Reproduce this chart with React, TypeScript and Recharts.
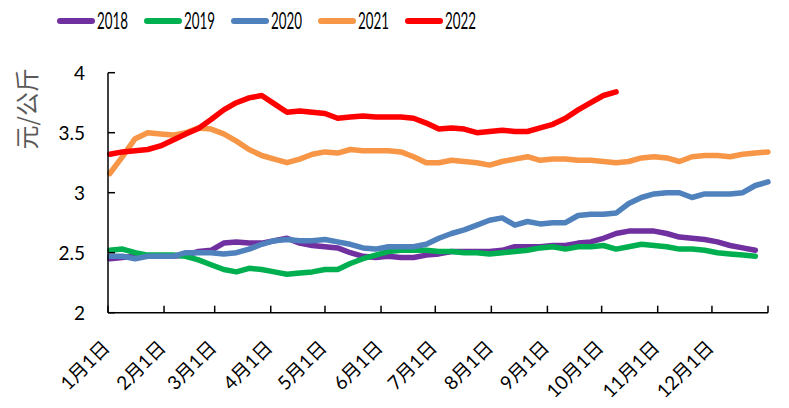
import React from 'react';
import { LineChart, Line, XAxis, YAxis } from 'recharts';

// day of year of each weekly observation
const weekDays = [
  1, 8, 15, 22, 29, 36, 43, 50, 57, 64, 71, 78, 85, 92, 99, 106, 113, 120, 127, 134,
  141, 148, 155, 162, 169, 176, 183, 190, 197, 204, 211, 218, 225, 232, 239, 246, 253, 260, 267, 274,
  281, 288, 295, 302, 309, 316, 323, 330, 337, 344, 351, 358, 365,
];

const v2018 = [
  2.45, 2.46, 2.47, 2.47, 2.47, 2.47, 2.48, 2.51, 2.52, 2.58,
  2.59, 2.58, 2.58, 2.60, 2.62, 2.58, 2.56, 2.55, 2.54, 2.50,
  2.47, 2.46, 2.47, 2.46, 2.46, 2.48, 2.49, 2.51, 2.51, 2.51,
  2.51, 2.52, 2.55, 2.55, 2.55, 2.56, 2.56, 2.58, 2.59, 2.62,
  2.66, 2.68, 2.68, 2.68, 2.66, 2.63, 2.62, 2.61, 2.59, 2.56,
  2.54, 2.52, null,
];

const v2019 = [
  2.52, 2.53, 2.50, 2.48, 2.48, 2.48, 2.47, 2.44, 2.40, 2.36,
  2.34, 2.37, 2.36, 2.34, 2.32, 2.33, 2.34, 2.36, 2.36, 2.41,
  2.45, 2.48, 2.51, 2.52, 2.52, 2.52, 2.51, 2.51, 2.50, 2.50,
  2.49, 2.50, 2.51, 2.52, 2.54, 2.55, 2.53, 2.55, 2.55, 2.56,
  2.53, 2.55, 2.57, 2.56, 2.55, 2.53, 2.53, 2.52, 2.50, 2.49,
  2.48, 2.47, null,
];

const v2020 = [
  2.47, 2.47, 2.45, 2.47, 2.47, 2.47, 2.50, 2.50, 2.50, 2.49,
  2.50, 2.53, 2.57, 2.60, 2.61, 2.60, 2.60, 2.61, 2.59, 2.57,
  2.54, 2.53, 2.55, 2.55, 2.55, 2.57, 2.62, 2.66, 2.69, 2.73,
  2.77, 2.79, 2.73, 2.76, 2.74, 2.75, 2.75, 2.81, 2.82, 2.82,
  2.83, 2.91, 2.96, 2.99, 3.00, 3.00, 2.96, 2.99, 2.99, 2.99,
  3.00, 3.06, 3.09,
];

const v2021 = [
  3.16, 3.30, 3.45, 3.50, 3.49, 3.48, 3.50, 3.54, 3.53, 3.49,
  3.43, 3.36, 3.31, 3.28, 3.25, 3.28, 3.32, 3.34, 3.33, 3.36,
  3.35, 3.35, 3.35, 3.34, 3.30, 3.25, 3.25, 3.27, 3.26, 3.25,
  3.23, 3.26, 3.28, 3.30, 3.27, 3.28, 3.28, 3.27, 3.27, 3.26,
  3.25, 3.26, 3.29, 3.30, 3.29, 3.26, 3.30, 3.31, 3.31, 3.30,
  3.32, 3.33, 3.34,
];

const v2022 = [
  3.32, 3.34, 3.35, 3.36, 3.39, 3.44, 3.49, 3.535, 3.61, 3.69,
  3.75, 3.79, 3.81, 3.74, 3.67, 3.68, 3.67, 3.66, 3.62, 3.63,
  3.64, 3.63, 3.63, 3.63, 3.62, 3.58, 3.53, 3.54, 3.53, 3.50,
  3.51, 3.52, 3.51, 3.51, 3.54, 3.57, 3.62, 3.69, 3.75, 3.81,
  3.84, null, null, null, null, null, null, null, null, null,
  null, null, null,
];

const MONTH_TICKS = [0, 31, 59, 90, 120, 151, 181, 212, 243, 273, 304, 334, 365];
const MONTH_LABELS = [
  '1月1日', '2月1日', '3月1日', '4月1日', '5月1日', '6月1日',
  '7月1日', '8月1日', '9月1日', '10月1日', '11月1日', '12月1日',
];
const Y_TICKS = [2, 2.5, 3, 3.5, 4];

const SERIES = [
  { key: 'y2018', name: '2018', color: '#7030A0' },
  { key: 'y2019', name: '2019', color: '#00B050' },
  { key: 'y2020', name: '2020', color: '#4F81BD' },
  { key: 'y2021', name: '2021', color: '#F79646' },
  { key: 'y2022', name: '2022', color: '#FF0000' },
];

const rows = weekDays.map((day, i) => ({
  day,
  y2018: v2018[i],
  y2019: v2019[i],
  y2020: v2020[i],
  y2021: v2021[i],
  y2022: v2022[i],
}));

const FONT = 'Lato, "Noto Sans CJK SC", sans-serif';

const XTick = (props: any) => {
  const { x, y, payload } = props;
  const idx = MONTH_TICKS.indexOf(payload.value);
  const label = MONTH_LABELS[idx];
  return (
    <g>
      <line x1={x} y1={y} x2={x} y2={y - 7} stroke="#000" strokeWidth={1.5} />
      {label && (
        <text
          transform={`translate(${x + 3},${y + 36}) rotate(-45)`}
          textAnchor="end"
          fontSize={19}
          fontFamily={FONT}
          fill="#000"
        >
          {label}
        </text>
      )}
    </g>
  );
};

const YTick = (props: any) => {
  const { x, y, payload } = props;
  return (
    <g>
      <line x1={x + 23} y1={y} x2={x + 30} y2={y} stroke="#000" strokeWidth={1.5} />
      <text x={x} y={y} dy="0.36em" textAnchor="end" fontSize={19} fontFamily={FONT} fill="#000">
        {payload.value}
      </text>
    </g>
  );
};

const YTitle = (props: any) => {
  const vb = props.viewBox || { x: 0, y: 72.7 };
  const cx = vb.x + 26;
  const cy = vb.y + 36;
  return (
    <text
      x={cx}
      y={cy}
      transform={`rotate(-90, ${cx}, ${cy})`}
      textAnchor="middle"
      dominantBaseline="central"
      fontSize={24}
      fontFamily='"Noto Sans CJK SC", sans-serif'
      fill="#595959"
    >
      元/公斤
    </text>
  );
};

export default function App() {
  return (
    <div style={{ position: 'absolute', left: 0, top: 0, width: 789, height: 408, background: '#fff' }}>
      <LineChart
        width={789}
        height={408}
        data={rows}
        margin={{ top: 72.7, right: 21, bottom: 15.3, left: 0 }}
      >
        <XAxis
          dataKey="day"
          type="number"
          domain={[0, 365]}
          ticks={MONTH_TICKS}
          interval={0}
          height={80}
          tickSize={0}
          tickMargin={0}
          tickLine={false}
          axisLine={{ stroke: '#000', strokeWidth: 1.5 }}
          tick={<XTick />}
        />
        <YAxis
          domain={[2, 4]}
          ticks={Y_TICKS}
          interval={0}
          width={108}
          tickSize={0}
          tickMargin={23}
          tickLine={false}
          axisLine={{ stroke: '#000', strokeWidth: 1.5 }}
          tick={<YTick />}
          label={<YTitle />}
        />
        {SERIES.map((s) => (
          <Line
            key={s.key}
            type="linear"
            dataKey={s.key}
            name={s.name}
            stroke={s.color}
            strokeWidth={5.5}
            strokeLinecap="round"
            strokeLinejoin="round"
            dot={false}
            activeDot={false}
            isAnimationActive={false}
          />
        ))}
      </LineChart>
      {/* legend, top left like the original */}
      <svg
        width={789}
        height={40}
        style={{ position: 'absolute', left: 0, top: 0, pointerEvents: 'none' }}
      >
        {SERIES.map((s, i) => {
          const x0 = 58 + i * 87;
          return (
            <g key={s.key}>
              <line x1={x0 + 2} y1={21} x2={x0 + 34} y2={21} stroke={s.color} strokeWidth={6} strokeLinecap="round" />
              <text
                x={x0 + 39}
                y={29}
                fontSize={24}
                fontFamily={FONT}
                fill="#000"
                textLength={31}
                lengthAdjust="spacingAndGlyphs"
              >
                {s.name}
              </text>
            </g>
          );
        })}
      </svg>
    </div>
  );
}
